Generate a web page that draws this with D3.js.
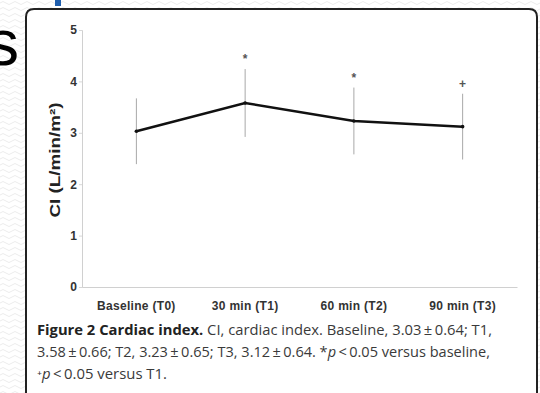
<!DOCTYPE html>
<html>
<head>
<meta charset="utf-8">
<script src="https://cdn.jsdelivr.net/npm/d3@7"></script>
<style>
  html, body { margin: 0; padding: 0; background: #fff; }
  svg { display: block; }
</style>
</head>
<body>
<div class="viz"></div>
<script>
const categories = ["Baseline (T0)", "30 min (T1)", "60 min (T2)", "90 min (T3)"];
const means = [3.03, 3.58, 3.23, 3.12];
const sds = [0.64, 0.66, 0.65, 0.64];
const marks = ["", "*", "*", "+"];
const yTicks = [0, 1, 2, 3, 4, 5];
const captionLines = [
  ["Figure 2 Cardiac index.", " CI, cardiac index. Baseline, 3.03\u2009\u00b1\u20090.64; T1,"],
  ["", "3.58\u2009\u00b1\u20090.66; T2, 3.23\u2009\u00b1\u20090.65; T3, 3.12\u2009\u00b1\u20090.64. *p\u2009<\u20090.05 versus baseline,"],
  ["", "\u207ap\u2009<\u20090.05 versus T1."]
];

const width = 540;
const height = 393;

const svg = d3.select('.viz').append('svg')
  .attr('width', width)
  .attr('height', height);

// faint wavy background
const defs = svg.append('defs');
const pat = defs.append('pattern')
  .attr('id', 'wave')
  .attr('width', 12).attr('height', 6)
  .attr('patternUnits', 'userSpaceOnUse');
pat.append('path')
  .attr('d', 'M0,3 Q3,0 6,3 T12,3')
  .attr('fill', 'none')
  .attr('stroke', '#ececec')
  .attr('stroke-width', 1);
svg.append('rect').attr('width', width).attr('height', height).attr('fill', 'url(#wave)');

// slide title fragment
svg.append('text')
  .attr('x', 19).attr('y', 65)
  .attr('text-anchor', 'end')
  .attr('font-family', 'Liberation Sans, Arial, sans-serif')
  .attr('font-size', 64)
  .attr('fill', '#000')
  .text('s');
svg.append('rect')
  .attr('x', 55).attr('y', 0).attr('width', 6).attr('height', 6)
  .attr('fill', '#1f5fae');

// figure panel
svg.append('path')
  .attr('d', 'M26,' + (height + 10) + ' V17 Q26,9 34,9 H529 Q537,9 537,17 V' + (height + 10))
  .attr('fill', '#fff')
  .attr('stroke', '#222')
  .attr('stroke-width', 2);

const x = d3.scaleBand()
  .domain(categories)
  .range([82, 517]);

const y = d3.scaleLinear()
  .domain([0, 5])
  .range([287, 30]);

const g = svg.append('g');

// y axis
const yAxis = g.append('g')
  .attr('transform', 'translate(82,0)')
  .call(d3.axisLeft(y).tickValues(yTicks).tickSize(3).tickFormat(d3.format('d')));
yAxis.select('.domain').attr('stroke', '#d0d0d0');
yAxis.selectAll('.tick line').attr('stroke', '#d8d8d8');
yAxis.selectAll('.tick text')
  .attr('x', -5)
  .attr('font-family', 'Liberation Sans, Arial, sans-serif')
  .attr('font-weight', 'bold')
  .attr('font-size', 12)
  .attr('fill', '#333');

// x axis
const xAxis = g.append('g')
  .attr('transform', 'translate(0,287)')
  .call(d3.axisBottom(x).tickSize(0).tickSizeOuter(0));
xAxis.select('.domain').attr('stroke', '#d0d0d0');
xAxis.selectAll('.tick text')
  .attr('y', 14)
  .attr('font-family', 'Liberation Sans, Arial, sans-serif')
  .attr('font-weight', 'bold')
  .attr('font-size', 12)
  .attr('letter-spacing', 0.3)
  .attr('fill', '#333');

// y label
g.append('text')
  .attr('transform', 'translate(60,160) rotate(-90)')
  .attr('text-anchor', 'middle')
  .attr('font-family', 'Liberation Sans, Arial, sans-serif')
  .attr('font-weight', 'bold')
  .attr('font-size', 15)
  .attr('fill', '#222')
  .attr('textLength', 115)
  .attr('lengthAdjust', 'spacingAndGlyphs')
  .text('CI (L/min/m\u00b2)');

const cx = d => x(d) + x.bandwidth() / 2;

// error bars
g.selectAll('.err')
  .data(categories)
  .join('line')
  .attr('class', 'err')
  .attr('x1', d => cx(d)).attr('x2', d => cx(d))
  .attr('y1', (d, i) => y(means[i] + sds[i]))
  .attr('y2', (d, i) => y(means[i] - sds[i]))
  .attr('stroke', '#a8a8a8')
  .attr('stroke-width', 1);

// mean line
const line = d3.line()
  .x(d => cx(d))
  .y((d, i) => y(means[i]));
g.append('path')
  .datum(categories)
  .attr('d', line)
  .attr('fill', 'none')
  .attr('stroke', '#111')
  .attr('stroke-width', 2.5);

g.selectAll('.pt')
  .data(categories)
  .join('circle')
  .attr('class', 'pt')
  .attr('cx', d => cx(d))
  .attr('cy', (d, i) => y(means[i]))
  .attr('r', 1.8)
  .attr('fill', '#111');

// significance marks
g.selectAll('.mark')
  .data(categories)
  .join('text')
  .attr('class', 'mark')
  .attr('x', d => cx(d))
  .attr('y', (d, i) => y(means[i] + sds[i]) - 6)
  .attr('text-anchor', 'middle')
  .attr('font-family', 'Liberation Sans, Arial, sans-serif')
  .attr('font-weight', 'bold')
  .attr('font-size', 12)
  .attr('fill', '#555')
  .text((d, i) => marks[i]);

// caption
const capWidths = [455, 453, 130];
const cap = svg.append('g')
  .attr('font-family', 'Open Sans, Noto Sans, sans-serif')
  .attr('font-size', 14)
  .attr('fill', '#3a3a3a');
captionLines.forEach((parts, i) => {
  const t = cap.append('text')
    .attr('x', 37)
    .attr('y', 335 + i * 22)
    .attr('textLength', capWidths[i])
    .attr('lengthAdjust', 'spacingAndGlyphs');
  if (parts[0]) t.append('tspan').attr('font-weight', 'bold').attr('fill', '#222').text(parts[0]);
  const rest = parts[1];
  // italic p
  rest.split(/(p)(?=\u2009<)/).forEach(s => {
    if (s === 'p') t.append('tspan').attr('font-style', 'italic').text('p');
    else if (s) t.append('tspan').text(s);
  });
});
</script>
</body>
</html>
